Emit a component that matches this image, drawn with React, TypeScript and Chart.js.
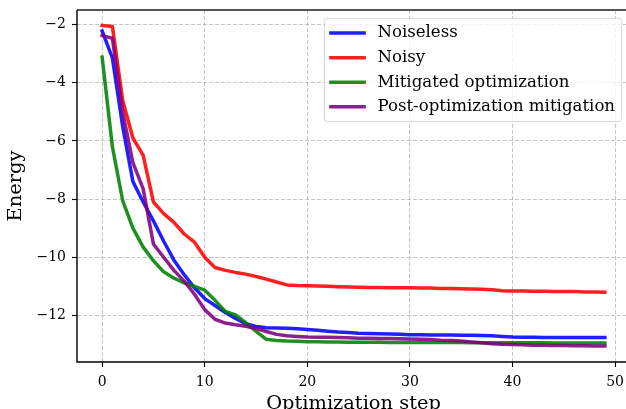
import React, { useEffect, useRef } from 'react';
import { Chart, registerables } from 'chart.js';

Chart.register(...registerables);

const steps = [
  0, 1, 2, 3, 4, 5, 6, 7, 8, 9, 10, 11, 12, 13, 14, 15, 16, 17, 18, 19, 20, 21, 22, 23, 24,
  25, 26, 27, 28, 29, 30, 31, 32, 33, 34, 35, 36, 37, 38, 39, 40, 41, 42, 43, 44, 45, 46, 47, 48, 49,
];

const noiseless = [
  -2.22, -3.15, -5.5, -7.4, -8.1, -8.75, -9.45, -10.1, -10.6, -11.05,
  -11.42, -11.66, -11.9, -12.1, -12.28, -12.38, -12.42, -12.43, -12.44, -12.46,
  -12.48, -12.51, -12.54, -12.57, -12.59, -12.61, -12.62, -12.63, -12.64, -12.65,
  -12.66, -12.66, -12.67, -12.67, -12.67, -12.68, -12.68, -12.69, -12.7, -12.72,
  -12.74, -12.75, -12.75, -12.76, -12.76, -12.76, -12.76, -12.76, -12.76, -12.76,
];

const noisy = [
  -2.03, -2.07, -4.6, -5.9, -6.5, -8.1, -8.5, -8.8, -9.2, -9.48,
  -10.0, -10.35, -10.45, -10.52, -10.58, -10.66, -10.75, -10.85, -10.95, -10.97,
  -10.98, -10.99, -11.0, -11.01, -11.02, -11.03, -11.04, -11.04, -11.05, -11.05,
  -11.05, -11.06, -11.06, -11.07, -11.07, -11.08, -11.09, -11.1, -11.12, -11.15,
  -11.16, -11.16, -11.17, -11.17, -11.18, -11.18, -11.18, -11.19, -11.19, -11.2,
];

const mitigated = [
  -3.12, -6.2, -8.05, -9.0, -9.65, -10.12, -10.5, -10.72, -10.88, -11.0,
  -11.13, -11.48, -11.86, -11.98, -12.25, -12.55, -12.82, -12.86, -12.88, -12.89,
  -12.9, -12.9, -12.91, -12.91, -12.92, -12.92, -12.92, -12.92, -12.93, -12.93,
  -12.93, -12.93, -12.93, -12.93, -12.93, -12.93, -12.94, -12.94, -12.94, -12.94,
  -12.94, -12.94, -12.94, -12.94, -12.95, -12.95, -12.95, -12.95, -12.95, -12.95,
];

const postMitigation = [
  -2.38, -2.47, -5.0, -6.75, -7.65, -9.55, -10.0, -10.45, -10.82, -11.27,
  -11.8, -12.13, -12.26, -12.32, -12.37, -12.45, -12.55, -12.65, -12.7, -12.72,
  -12.74, -12.75, -12.75, -12.76, -12.77, -12.78, -12.78, -12.79, -12.79, -12.8,
  -12.81, -12.82, -12.83, -12.85, -12.86, -12.88, -12.91, -12.94, -12.97, -12.99,
  -13.0, -13.01, -13.02, -13.02, -13.03, -13.03, -13.04, -13.04, -13.05, -13.05,
];

const seriesLabels = ['Noiseless', 'Noisy', 'Mitigated optimization', 'Post-optimization mitigation'];
const seriesColors = [
  'rgba(0,0,255,0.88)',
  'rgba(255,0,0,0.88)',
  'rgba(0,128,0,0.88)',
  'rgba(128,0,128,0.88)',
];
const xTicks = [0, 10, 20, 30, 40, 50];
const yTicks = [-12, -10, -8, -6, -4, -2];

const FONT = "'DejaVu Serif', serif";
const LINE_W = 3.5;

const framePlugin = {
  id: 'frame',
  afterDatasetsDraw(chart: any) {
    const { ctx, chartArea: a } = chart;
    ctx.save();
    ctx.setLineDash([]);
    ctx.strokeStyle = '#555';
    ctx.lineWidth = 2;
    ctx.beginPath();
    ctx.moveTo(a.left, a.top);
    ctx.lineTo(a.right, a.top);
    ctx.stroke();
    ctx.strokeStyle = '#000';
    ctx.lineWidth = 1.4;
    ctx.beginPath();
    ctx.moveTo(a.left, a.top);
    ctx.lineTo(a.left, a.bottom);
    ctx.lineTo(a.right, a.bottom);
    ctx.stroke();
    ctx.restore();
  },
  afterDraw(chart: any) {
    const { ctx, chartArea: a } = chart;
    const fs = 16.6;
    const pad = 0.4 * fs;
    const handleLen = 2 * fs;
    const textPad = 0.8 * fs;
    const spacing = 0.5 * fs;
    const axPad = 0.5 * fs;
    const rowH = 0.98 * fs;
    const ds = chart.data.datasets;
    ctx.save();
    ctx.font = `${fs}px ${FONT}`;
    const maxW = Math.max(...ds.map((d: any) => ctx.measureText(d.label).width));
    const w = 2 * pad + handleLen + textPad + maxW;
    const h = 2 * pad + ds.length * rowH + (ds.length - 1) * spacing;
    const right = a.right - axPad;
    const top = a.top + axPad;
    const left = right - w;
    const r = 3;
    ctx.beginPath();
    ctx.moveTo(left + r, top);
    ctx.lineTo(right - r, top);
    ctx.quadraticCurveTo(right, top, right, top + r);
    ctx.lineTo(right, top + h - r);
    ctx.quadraticCurveTo(right, top + h, right - r, top + h);
    ctx.lineTo(left + r, top + h);
    ctx.quadraticCurveTo(left, top + h, left, top + h - r);
    ctx.lineTo(left, top + r);
    ctx.quadraticCurveTo(left, top, left + r, top);
    ctx.closePath();
    ctx.fillStyle = 'rgba(255,255,255,0.8)';
    ctx.fill();
    ctx.strokeStyle = 'rgba(204,204,204,0.8)';
    ctx.lineWidth = 1;
    ctx.stroke();
    ds.forEach((d: any, k: number) => {
      const cy = top + pad + rowH / 2 + k * (rowH + spacing);
      ctx.beginPath();
      ctx.strokeStyle = d.borderColor;
      ctx.lineWidth = LINE_W;
      ctx.lineCap = 'square';
      ctx.moveTo(left + pad, cy);
      ctx.lineTo(left + pad + handleLen, cy);
      ctx.stroke();
      ctx.fillStyle = '#000';
      ctx.textBaseline = 'middle';
      ctx.textAlign = 'left';
      ctx.fillText(d.label, left + pad + handleLen + textPad, cy);
    });
    ctx.restore();
  },
};

export default function App() {
  const ref = useRef<HTMLCanvasElement>(null);

  useEffect(() => {
    if (!ref.current) return;
    document.documentElement.style.overflow = 'hidden';
    document.body.style.overflow = 'hidden';
    const series = [noiseless, noisy, mitigated, postMitigation];
    const chart = new Chart(ref.current, {
      type: 'line',
      data: {
        datasets: series.map((vals, k) => ({
          label: seriesLabels[k],
          data: steps.map((s, i) => ({ x: s, y: vals[i] })),
          borderColor: seriesColors[k],
          backgroundColor: seriesColors[k],
          borderWidth: LINE_W,
          pointRadius: 0,
          tension: 0,
          fill: false,
          borderJoinStyle: 'round',
          borderCapStyle: 'square',
          order: 4 - k,
        })),
      },
      options: {
        responsive: false,
        animation: false,
        events: [],
        layout: { padding: { left: 0, top: 10, right: 30, bottom: 0 } },
        plugins: { legend: { display: false }, tooltip: { enabled: false } },
        scales: {
          x: {
            type: 'linear',
            min: -2.45,
            max: 51.45,
            afterBuildTicks: (scale: any) => {
              scale.ticks = xTicks.map((v) => ({ value: v }));
            },
            afterFit: (scale: any) => {
              scale.height = 58;
              scale.paddingLeft = 0;
              scale.paddingRight = 0;
            },
            grid: {
              color: 'rgba(160,160,160,0.6)',
              lineWidth: 1,
              drawTicks: true,
              tickLength: 5,
              tickColor: '#000',
              tickWidth: 1.1,
            },
            border: { display: false, dash: [4, 2] },
            ticks: {
              font: { family: FONT, size: 14 },
              color: '#000',
              padding: 7,
              maxRotation: 0,
              autoSkip: false,
            },
            title: {
              display: true,
              text: 'Optimization step',
              font: { family: FONT, size: 19.4 },
              color: '#000',
              padding: { top: 0, bottom: 4 },
            },
          },
          y: {
            type: 'linear',
            min: -13.6,
            max: -1.5,
            afterBuildTicks: (scale: any) => {
              scale.ticks = yTicks.map((v) => ({ value: v }));
            },
            afterFit: (scale: any) => {
              scale.width = 77;
              scale.paddingTop = 0;
              scale.paddingBottom = 0;
            },
            grid: {
              color: 'rgba(160,160,160,0.6)',
              lineWidth: 1,
              drawTicks: true,
              tickLength: 5,
              tickColor: '#000',
              tickWidth: 1.1,
            },
            border: { display: false, dash: [4, 2] },
            ticks: {
              font: { family: FONT, size: 14 },
              color: '#000',
              padding: 6,
              autoSkip: false,
              callback: (v: any) => String(v).replace('-', '\u2212'),
            },
            title: {
              display: true,
              text: 'Energy',
              font: { family: FONT, size: 19.4 },
              color: '#000',
              padding: { top: 4, bottom: 0 },
            },
          },
        },
      },
      plugins: [framePlugin],
    } as any);
    return () => chart.destroy();
  }, []);

  return (
    <canvas
      ref={ref}
      width={660}
      height={420}
      style={{ position: 'fixed', left: 0, top: 0, display: 'block', width: 660, height: 420, background: '#fff' }}
    />
  );
}
